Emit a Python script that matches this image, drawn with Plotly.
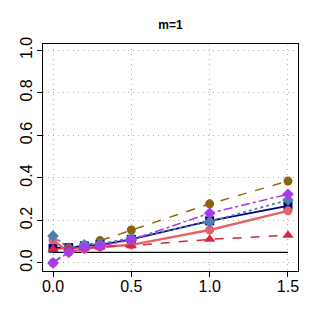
import plotly.graph_objects as go

x = [0.0, 0.1, 0.2, 0.3, 0.5, 1.0, 1.5]

brown = [0.00, 0.06, 0.08, 0.105, 0.155, 0.278, 0.385]
purple = [0.00, 0.05, 0.07, 0.08, 0.108, 0.234, 0.323]
steel = [0.127, 0.07, 0.085, 0.09, 0.116, 0.194, 0.296]
navy = [0.069, 0.072, 0.08, 0.085, 0.111, 0.198, 0.268]
salmon = [0.108, 0.05, 0.065, 0.075, 0.085, 0.155, 0.245]
red = [0.064, 0.07, 0.07, 0.075, 0.081, 0.111, 0.13]
nominal = [0.05] * len(x)

yticks = [0.0, 0.2, 0.4, 0.6, 0.8, 1.0]
xticks = [0.0, 0.5, 1.0, 1.5]

# drawing order roughly matches which marker sits on top in the original
series = [
    (nominal, "black", "solid", None, 1.3, 0),
    (brown, "#8B6508", "dash", "circle", 1.5, 9),
    (navy, "#000080", "solid", "square", 1.8, 9),
    (salmon, "#E5646B", "solid", "circle", 2.5, 9),
    (steel, "#4F7FAF", "dot", "diamond", 1.8, 9),
    (red, "#D7263D", "dash", "triangle-up", 1.5, 10),
    (purple, "#A63BEA", "dashdot", "diamond", 1.5, 9),
]

fig = go.Figure()
for ys, col, dash, sym, w, sz in series:
    fig.add_trace(go.Scatter(
        x=x, y=ys,
        mode="lines" if sym is None else "lines+markers",
        line=dict(color=col, dash=dash, width=w),
        marker=dict(symbol=sym, size=sz, color=col) if sym else None,
    ))

# the page body has an 8px margin, so the figure is 8px smaller each way
fig.update_layout(
    width=313, height=319,
    margin=dict(l=35, r=23, t=36, b=56),
    showlegend=False,
    plot_bgcolor="white",
    paper_bgcolor="white",
    font=dict(family="Liberation Sans", color="black", size=16),
    title=dict(text="<b>m=1</b>", x=162.5 / 313, xanchor="center", y=1 - 17 / 319, yanchor="middle",
               font=dict(size=12), automargin=False),
)
grid = dict(showgrid=True, gridcolor="#B0B0B0", griddash="1px,4px", gridwidth=1, zeroline=False,
            showline=True, linecolor="black", linewidth=1, mirror=True,
            ticks="outside", ticklen=5, tickcolor="black", automargin=False)
fig.update_xaxes(range=[-0.064, 1.564], tickvals=xticks, ticktext=["0.0", "0.5", "1.0", "1.5"],
                 ticklabelstandoff=-4, **grid)
fig.update_yaxes(range=[-0.038, 1.03], tickvals=yticks,
                 ticktext=["0.0", "0.2", "0.4", "0.6", "0.8", "1.0"], tickangle=-90,
                 ticklabelstandoff=-1, **grid)

fig.write_html("out.html")
